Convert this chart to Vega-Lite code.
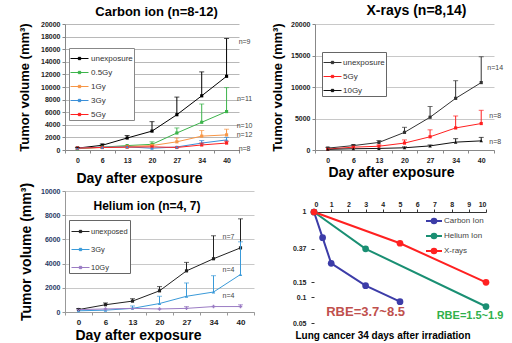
{
  "$schema": "https://vega.github.io/schema/vega-lite/v6.json",
  "padding": {"left": 18, "top": 4, "right": 0, "bottom": 0},
  "background": "white",
  "config": {
    "font": "Liberation Sans",
    "view": {"stroke": null},
    "title": {"font": "Liberation Sans", "fontWeight": "bold", "color": "#000"},
    "axis": {"labelFont": "Liberation Sans", "titleFont": "Liberation Sans", "labelFontWeight": "bold", "labelColor": "#222", "labelFontSize": 7, "titleColor": "#000", "titleFontWeight": "bold"},
    "legend": {"labelFont": "Liberation Sans", "labelColor": "#333"}
  },
  "datasets": {
    "carbon": [
      {"s": "unexposure", "day": 0, "v": 300, "hi": 420},
      {"s": "unexposure", "day": 6, "v": 750, "hi": 950},
      {"s": "unexposure", "day": 13, "v": 1900, "hi": 2300},
      {"s": "unexposure", "day": 20, "v": 3000, "hi": 4500},
      {"s": "unexposure", "day": 27, "v": 5600, "hi": 8400},
      {"s": "unexposure", "day": 34, "v": 8600, "hi": 12400},
      {"s": "unexposure", "day": 40, "v": 11700, "hi": 17700},
      {"s": "0.5Gy", "day": 0, "v": 200},
      {"s": "0.5Gy", "day": 6, "v": 450},
      {"s": "0.5Gy", "day": 13, "v": 700},
      {"s": "0.5Gy", "day": 20, "v": 900, "hi": 1300},
      {"s": "0.5Gy", "day": 27, "v": 2700, "hi": 3500},
      {"s": "0.5Gy", "day": 34, "v": 4400, "hi": 7300},
      {"s": "0.5Gy", "day": 40, "v": 6100, "hi": 9900},
      {"s": "1Gy", "day": 0, "v": 250},
      {"s": "1Gy", "day": 6, "v": 400},
      {"s": "1Gy", "day": 13, "v": 550},
      {"s": "1Gy", "day": 20, "v": 700, "hi": 900},
      {"s": "1Gy", "day": 27, "v": 1300, "hi": 1900},
      {"s": "1Gy", "day": 34, "v": 2200, "hi": 3100},
      {"s": "1Gy", "day": 40, "v": 2400, "hi": 3300},
      {"s": "3Gy", "day": 0, "v": 300},
      {"s": "3Gy", "day": 6, "v": 450},
      {"s": "3Gy", "day": 13, "v": 500},
      {"s": "3Gy", "day": 20, "v": 280},
      {"s": "3Gy", "day": 27, "v": 480},
      {"s": "3Gy", "day": 34, "v": 1100, "hi": 1500},
      {"s": "3Gy", "day": 40, "v": 1600, "hi": 2000},
      {"s": "5Gy", "day": 0, "v": 300},
      {"s": "5Gy", "day": 6, "v": 400},
      {"s": "5Gy", "day": 13, "v": 450},
      {"s": "5Gy", "day": 20, "v": 500},
      {"s": "5Gy", "day": 27, "v": 400},
      {"s": "5Gy", "day": 34, "v": 800, "hi": 1100},
      {"s": "5Gy", "day": 40, "v": 1100, "hi": 1400}
    ],
    "carbonN": [
      {"day": 40, "v": 17120, "t": "n=9"},
      {"day": 40, "v": 8080, "t": "n=11"},
      {"day": 40, "v": 3800, "t": "n=10"},
      {"day": 40, "v": 2350, "t": "n=12"},
      {"day": 40, "v": 210, "t": "n=8"}
    ],
    "xray": [
      {"s": "unexposure", "day": 0, "v": 300, "hi": 420},
      {"s": "unexposure", "day": 6, "v": 700, "hi": 850},
      {"s": "unexposure", "day": 13, "v": 1200, "hi": 1500},
      {"s": "unexposure", "day": 20, "v": 2800, "hi": 3600},
      {"s": "unexposure", "day": 27, "v": 5200, "hi": 6900},
      {"s": "unexposure", "day": 34, "v": 8200, "hi": 11000},
      {"s": "unexposure", "day": 40, "v": 10700, "hi": 14800},
      {"s": "5Gy", "day": 0, "v": 150},
      {"s": "5Gy", "day": 6, "v": 450},
      {"s": "5Gy", "day": 13, "v": 600, "hi": 800},
      {"s": "5Gy", "day": 20, "v": 1100, "hi": 1600},
      {"s": "5Gy", "day": 27, "v": 2100, "hi": 3200},
      {"s": "5Gy", "day": 34, "v": 3500, "hi": 5400},
      {"s": "5Gy", "day": 40, "v": 4200, "hi": 6300},
      {"s": "10Gy", "day": 0, "v": 100},
      {"s": "10Gy", "day": 6, "v": 200},
      {"s": "10Gy", "day": 13, "v": 250},
      {"s": "10Gy", "day": 20, "v": 350, "hi": 500},
      {"s": "10Gy", "day": 27, "v": 650, "hi": 800},
      {"s": "10Gy", "day": 34, "v": 1250, "hi": 1800},
      {"s": "10Gy", "day": 40, "v": 1450, "hi": 2000}
    ],
    "xrayN": [
      {"day": 40, "v": 12975, "t": "n=14"},
      {"day": 40, "v": 5400, "t": "n=8"},
      {"day": 40, "v": 1245, "t": "n=8"}
    ],
    "helium": [
      {"s": "unexposed", "day": 0, "v": 200, "hi": 280},
      {"s": "unexposed", "day": 6, "v": 600, "hi": 750},
      {"s": "unexposed", "day": 13, "v": 900, "hi": 1100},
      {"s": "unexposed", "day": 20, "v": 1750, "hi": 2100},
      {"s": "unexposed", "day": 27, "v": 3400, "hi": 4100},
      {"s": "unexposed", "day": 34, "v": 4400, "hi": 6300},
      {"s": "unexposed", "day": 40, "v": 5300, "hi": 7700},
      {"s": "3Gy", "day": 0, "v": 100},
      {"s": "3Gy", "day": 6, "v": 150},
      {"s": "3Gy", "day": 13, "v": 300, "hi": 500},
      {"s": "3Gy", "day": 20, "v": 700, "hi": 1300},
      {"s": "3Gy", "day": 27, "v": 1300, "hi": 2400},
      {"s": "3Gy", "day": 34, "v": 1650, "hi": 3000},
      {"s": "3Gy", "day": 40, "v": 3100, "hi": 5800},
      {"s": "10Gy", "day": 0, "v": 200},
      {"s": "10Gy", "day": 6, "v": 250},
      {"s": "10Gy", "day": 13, "v": 300},
      {"s": "10Gy", "day": 20, "v": 250},
      {"s": "10Gy", "day": 27, "v": 300, "hi": 450},
      {"s": "10Gy", "day": 34, "v": 450},
      {"s": "10Gy", "day": 40, "v": 450, "hi": 600}
    ],
    "heliumN": [
      {"day": 40, "v": 6220, "t": "n=7"},
      {"day": 40, "v": 3507, "t": "n=4"},
      {"day": 40, "v": 1315, "t": "n=4"}
    ],
    "surv": [
      {"s": "Carbon Ion", "dose": 0, "f": 1},
      {"s": "Carbon Ion", "dose": 0.5, "f": 0.5},
      {"s": "Carbon Ion", "dose": 1, "f": 0.25},
      {"s": "Carbon Ion", "dose": 3, "f": 0.137},
      {"s": "Carbon Ion", "dose": 5, "f": 0.089},
      {"s": "Helium Ion", "dose": 0, "f": 1},
      {"s": "Helium Ion", "dose": 3, "f": 0.37},
      {"s": "Helium Ion", "dose": 10, "f": 0.078},
      {"s": "X-rays", "dose": 0, "f": 1},
      {"s": "X-rays", "dose": 5, "f": 0.43},
      {"s": "X-rays", "dose": 10, "f": 0.15}
    ],
    "rbe": [
      {"dose": 3, "f": 0.0673, "t": "RBE=3.7~8.5", "k": "c"},
      {"dose": 9.07, "f": 0.0604, "t": "RBE=1.5~1.9", "k": "h"}
    ]
  },
  "spacing": -3,
  "resolve": {"scale": {"x": "independent", "y": "independent", "color": "independent"}, "legend": {"color": "independent"}},
  "vconcat": [
    {
      "spacing": 18,
      "resolve": {"scale": {"x": "independent", "y": "independent", "color": "independent"}, "legend": {"color": "independent"}},
      "hconcat": [
        {
          "width": 183, "height": 126,
          "title": {"text": "Carbon ion (n=8-12)", "fontSize": 13, "offset": 1},
          "data": {"name": "carbon"},
          "encoding": {
            "x": {"field": "day", "type": "ordinal", "bandPosition": 0.5, "scale": {"type": "band", "paddingInner": 0, "paddingOuter": 0, "range": [0, 174]},
                  "axis": {"labelAngle": 0, "tickBand": "extent", "tickSize": 3, "tickColor": "#888", "domainColor": "#888", "labelPadding": 3, "title": "Day after exposure", "titleFontSize": 14, "titleX": 74, "titlePadding": 8}},
            "y": {"field": "v", "type": "quantitative", "scale": {"domain": [0, 20000], "nice": false},
                  "axis": {"values": [0, 2000, 4000, 6000, 8000, 10000, 12000, 14000, 16000, 18000, 20000], "format": "d", "tickSize": 3, "tickColor": "#888", "domainColor": "#888", "gridColor": "#b8b8b8", "labelPadding": 2, "title": "Tumor volume (mm³)", "titleFontSize": 13, "titlePadding": 9}},
            "color": {"field": "s", "type": "nominal", "scale": {"domain": ["unexposure", "0.5Gy", "1Gy", "3Gy", "5Gy"], "range": ["#000000", "#3cb44b", "#f79646", "#3a8fd8", "#ff2020"]},
              "legend": {"orient": "none", "legendX": 4, "legendY": 24, "title": null, "strokeColor": "#888", "fillColor": "white", "padding": 1, "rowPadding": -4, "labelFontSize": 8, "labelOffset": 2, "symbolType": "M-1,0H1M-0.13,-0.13H0.13V0.13H-0.13Z", "symbolSize": 324, "symbolStrokeWidth": 1}}
          },
          "layer": [
            {"mark": {"type": "line", "strokeWidth": 1}},
            {"transform": [{"filter": "datum.s != '3Gy'"}], "mark": {"type": "point", "shape": "square", "filled": true, "size": 10, "opacity": 1}},
            {"transform": [{"filter": "datum.s == '3Gy'"}], "mark": {"type": "point", "shape": "triangle-up", "filled": true, "size": 12, "opacity": 1}},
            {
              "transform": [{"filter": "datum.hi != null"}],
              "mark": {"type": "rule", "strokeWidth": 1},
              "encoding": {"y2": {"field": "hi"}}
            },
            {
              "transform": [{"filter": "datum.hi != null"}],
              "mark": {"type": "tick", "orient": "horizontal", "size": 5, "thickness": 1},
              "encoding": {"y": {"field": "hi", "type": "quantitative"}}
            },
            {
              "data": {"name": "carbonN"},
              "mark": {"type": "text", "fontSize": 7, "color": "#444", "align": "center", "dx": 18},
              "encoding": {"text": {"field": "t"}, "color": null}
            }
          ]
        },
        {
          "width": 179, "height": 126,
          "title": {"text": "X-rays (n=8,14)", "fontSize": 14, "offset": 2, "dx": 12},
          "data": {"name": "xray"},
          "encoding": {
            "x": {"field": "day", "type": "ordinal", "bandPosition": 0.5, "scale": {"type": "band", "paddingInner": 0, "paddingOuter": 0},
                  "axis": {"labelAngle": 0, "tickBand": "extent", "tickSize": 3, "tickColor": "#888", "domainColor": "#888", "labelPadding": 3, "title": "Day after exposure", "titleFontSize": 14, "titleX": 76, "titlePadding": 2}},
            "y": {"field": "v", "type": "quantitative", "scale": {"domain": [0, 20000], "nice": false},
                  "axis": {"values": [0, 5000, 10000, 15000, 20000], "format": "d", "tickSize": 3, "tickColor": "#888", "domainColor": "#888", "gridColor": "#c8c8c8", "labelPadding": 2, "title": "Tumor volume (mm³)", "titleFontSize": 13, "titlePadding": 6}},
            "color": {"field": "s", "type": "nominal", "scale": {"domain": ["unexposure", "5Gy", "10Gy"], "range": ["#333333", "#ff2020", "#111111"]},
              "legend": {"orient": "none", "legendX": 7, "legendY": 28, "title": null, "strokeColor": "#666", "fillColor": "white", "padding": 1, "rowPadding": -3, "labelFontSize": 8, "labelOffset": 1, "symbolType": "M-1,0H1M-0.13,-0.13H0.13V0.13H-0.13Z", "symbolSize": 324, "symbolStrokeWidth": 1}}
          },
          "layer": [
            {"mark": {"type": "line", "strokeWidth": 1}},
            {"transform": [{"filter": "datum.s != '10Gy'"}], "mark": {"type": "point", "shape": "square", "filled": true, "size": 10, "opacity": 1}},
            {"transform": [{"filter": "datum.s == '10Gy'"}], "mark": {"type": "point", "shape": "triangle-up", "filled": true, "size": 12, "opacity": 1}},
            {
              "transform": [{"filter": "datum.hi != null"}],
              "mark": {"type": "rule", "strokeWidth": 1},
              "encoding": {"y2": {"field": "hi"}}
            },
            {
              "transform": [{"filter": "datum.hi != null"}],
              "mark": {"type": "tick", "orient": "horizontal", "size": 5, "thickness": 1},
              "encoding": {"y": {"field": "hi", "type": "quantitative"}}
            },
            {
              "data": {"name": "xrayN"},
              "mark": {"type": "text", "fontSize": 7, "color": "#444", "align": "center", "dx": 14},
              "encoding": {"text": {"field": "t"}, "color": null}
            }
          ]
        }
      ]
    },
    {
      "spacing": 37,
      "resolve": {"scale": {"x": "independent", "y": "independent", "color": "independent"}, "legend": {"color": "independent"}},
      "hconcat": [
        {
          "width": 186, "height": 121,
          "title": {"text": "Helium ion (n=4, 7)", "fontSize": 12, "offset": -31, "dx": -11, "frame": "group"},
          "data": {"name": "helium"},
          "encoding": {
            "x": {"field": "day", "type": "ordinal", "bandPosition": 0.5, "scale": {"type": "band", "paddingInner": 0, "paddingOuter": 0, "range": [0, 189]},
                  "axis": {"labelAngle": 0, "tickBand": "extent", "tickSize": 3, "tickColor": "#999", "domainColor": "#999", "labelPadding": 3, "labelFontSize": 8, "title": "Day after exposure", "titleFontSize": 14, "titleX": 73, "titlePadding": 2}},
            "y": {"field": "v", "type": "quantitative", "scale": {"domain": [0, 10000], "nice": false},
                  "axis": {"values": [0, 2000, 4000, 6000, 8000, 10000], "format": "d", "tickSize": 3, "tickColor": "#999", "domainColor": "#999", "gridColor": "#c8c8c8", "labelPadding": 2, "labelColor": "#1f3864", "title": "Tumor volume (mm³)", "titleFontSize": 14, "titlePadding": 7}},
            "color": {"field": "s", "type": "nominal", "scale": {"domain": ["unexposed", "3Gy", "10Gy"], "range": ["#222222", "#3a9ad9", "#9b7cc4"]},
              "legend": {"orient": "none", "legendX": 4, "legendY": 29, "title": null, "strokeColor": "#666", "fillColor": "white", "padding": 2, "rowPadding": 5, "labelFontSize": 7.5, "labelOffset": 1, "symbolType": "M-1,0H1M-0.13,-0.13H0.13V0.13H-0.13Z", "symbolSize": 324, "symbolStrokeWidth": 1}}
          },
          "layer": [
            {"mark": {"type": "line", "strokeWidth": 1}},
            {"transform": [{"filter": "datum.s == 'unexposed'"}], "mark": {"type": "point", "shape": "square", "filled": true, "size": 10, "opacity": 1}},
            {"transform": [{"filter": "datum.s == '3Gy'"}], "mark": {"type": "point", "shape": "triangle-up", "filled": true, "size": 12, "opacity": 1}},
            {"transform": [{"filter": "datum.s == '10Gy'"}], "mark": {"type": "point", "shape": "cross", "filled": true, "size": 12, "opacity": 1}},
            {
              "transform": [{"filter": "datum.hi != null"}],
              "mark": {"type": "rule", "strokeWidth": 1},
              "encoding": {"y2": {"field": "hi"}}
            },
            {
              "transform": [{"filter": "datum.hi != null"}],
              "mark": {"type": "tick", "orient": "horizontal", "size": 5, "thickness": 1},
              "encoding": {"y": {"field": "hi", "type": "quantitative"}}
            },
            {
              "data": {"name": "heliumN"},
              "mark": {"type": "text", "fontSize": 7, "color": "#444", "align": "center", "dx": -12},
              "encoding": {"text": {"field": "t"}, "color": null}
            }
          ]
        },
        {
          "width": 172, "height": 132,
          "title": {"text": "Lung cancer 34 days after irradiation", "orient": "bottom", "fontSize": 10, "offset": 5, "dx": -17},
          "encoding": {
            "x": {"type": "quantitative", "scale": {"domain": [0, 10], "nice": false},
                  "axis": {"orient": "top", "offset": -21, "values": [0, 1, 2, 3, 4, 5, 6, 7, 8, 9, 10], "grid": false, "tickSize": 3, "tickColor": "#333", "domainColor": "#333", "labelPadding": 2, "title": null}},
            "y": {"type": "quantitative", "scale": {"type": "log", "domain": [0.05, 1.762], "nice": false},
                  "axis": {"values": [1, 0.37, 0.15, 0.1, 0.05], "labelExpr": "'' + datum.value", "grid": false, "domain": false, "tickSize": 3, "tickColor": "#333", "labelPadding": 5, "title": null}}
          },
          "layer": [
            {"mark": {"type": "rule", "color": "#f4b183", "strokeWidth": 1.5}, "encoding": {"x": {"datum": 0}, "x2": {"datum": 6.55}, "y": {"datum": 0.37}}},
            {"mark": {"type": "rule", "color": "#f9c9a0", "strokeWidth": 3}, "encoding": {"x": {"datum": 0}, "x2": {"datum": 10.35}, "y": {"datum": 0.15}}},
            {"mark": {"type": "rule", "color": "#222", "strokeWidth": 1, "strokeDash": [3, 3]}, "encoding": {"x": {"datum": 0}, "x2": {"datum": 10}, "y": {"datum": 0.1}}},
            {"mark": {"type": "rule", "color": "#9fb6d6", "strokeWidth": 1.5}, "encoding": {"x": {"datum": 6}, "y": {"datum": 1}, "y2": {"datum": 0.125}}},
            {"mark": {"type": "rule", "color": "#333", "strokeWidth": 1.2}, "encoding": {"x": {"datum": 0}, "y": {"datum": 1}, "y2": {"datum": 0.05}}},
            {"mark": {"type": "rule", "color": "#333", "strokeWidth": 1.5}, "encoding": {"x": {"datum": 0}, "x2": {"datum": 10}, "y": {"datum": 0.05}}},
            {
              "data": {"name": "surv"},
              "mark": {"type": "line", "strokeWidth": 2},
              "encoding": {
                "x": {"field": "dose", "type": "quantitative"},
                "y": {"field": "f", "type": "quantitative"},
                "color": {"field": "s", "type": "nominal", "scale": {"domain": ["Carbon Ion", "Helium Ion", "X-rays"], "range": ["#3c3ca8", "#1a8f73", "#ff2121"]},
                  "legend": {"orient": "none", "legendX": 111, "legendY": 21, "title": null, "rowPadding": -1.5, "labelFontSize": 8, "labelColor": "#444", "labelOffset": 1, "symbolType": "M-1,0H1M0.3,0A0.3,0.3 0 1,1 -0.3,0A0.3,0.3 0 1,1 0.3,0", "symbolSize": 256, "symbolStrokeWidth": 1.8}}
              }
            },
            {
              "data": {"name": "surv"},
              "mark": {"type": "circle", "size": 45, "opacity": 1},
              "encoding": {
                "x": {"field": "dose", "type": "quantitative"},
                "y": {"field": "f", "type": "quantitative"},
                "color": {"field": "s", "type": "nominal", "legend": null}
              }
            },
            {
              "data": {"name": "rbe"},
              "transform": [{"filter": "datum.k == 'c'"}],
              "mark": {"type": "text", "fontSize": 13, "fontWeight": "bold", "color": "#c0504d"},
              "encoding": {"x": {"field": "dose", "type": "quantitative"}, "y": {"field": "f", "type": "quantitative"}, "text": {"field": "t"}}
            },
            {
              "data": {"name": "rbe"},
              "transform": [{"filter": "datum.k == 'h'"}],
              "mark": {"type": "text", "fontSize": 11, "fontWeight": "bold", "color": "#2fb04a"},
              "encoding": {"x": {"field": "dose", "type": "quantitative"}, "y": {"field": "f", "type": "quantitative"}, "text": {"field": "t"}}
            }
          ]
        }
      ]
    }
  ]
}
